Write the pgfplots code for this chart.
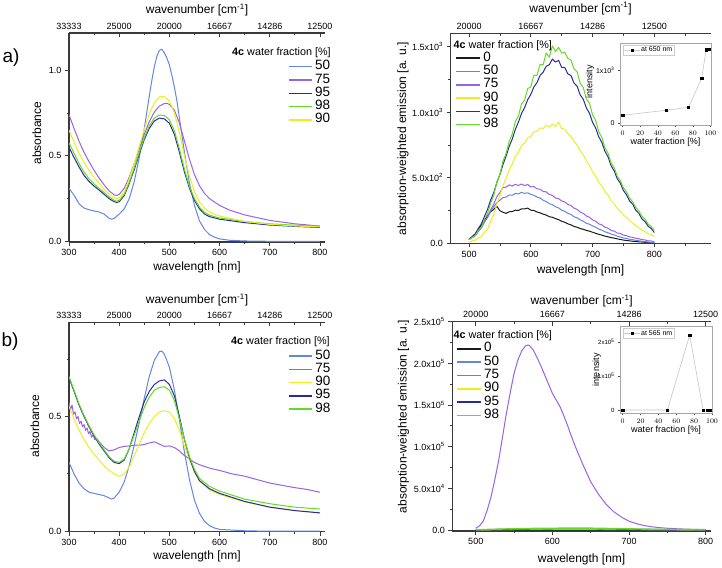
\documentclass[border=0pt]{standalone}
\usepackage{pgfplots}
\pgfplotsset{compat=1.18}
\usepackage{fontspec}
\setmainfont{Liberation Sans}
\definecolor{c0}{HTML}{1A1A1A}
\definecolor{c50}{HTML}{6286E4}
\definecolor{c75}{HTML}{9A62E4}
\definecolor{c90}{HTML}{EEEE1E}
\definecolor{c95}{HTML}{2A2AA0}
\definecolor{c98}{HTML}{62DC22}
\definecolor{axc}{HTML}{3A3A3A}
\newcommand{\fs}[1]{\fontsize{#1}{#1}\selectfont}
\newcommand{\sx}[1]{x10\textsuperscript{#1}}
\pgfplotsset{
  mainax/.style={scale only axis, anchor=south west,
    axis x line*=bottom, axis y line*=left,
    axis line style={axc, line width=1.1pt},
    tick style={axc, line width=0.8pt},
    tick align=outside, major tick length=4pt, minor tick length=2.2pt,
    tick label style={font=\fs{9}},
    label style={font=\fs{12}},
    xlabel={wavelength [nm]},
    scaled ticks=false,
    every axis plot/.append style={line width=1pt, line join=round},
  },
  topax/.style={scale only axis, anchor=south west,
    axis x line*=top, axis y line=none,
    axis line style={axc, line width=1.1pt},
    tick style={axc, line width=0.8pt},
    tick align=inside, major tick length=4pt, minor tick length=2.2pt,
    xticklabel pos=upper,
    xticklabel style={font=\fs{9}, anchor=south, inner sep=0pt},
    xticklabel shift=3.5pt,
    xlabel={wavenumber [cm\textsuperscript{-1}]},
    label style={font=\fs{12}},
    ymin=0, ymax=1,
  },
  lg/.style n args={3}{
    legend style={draw=none, fill=none, at={(axis description cs:#1,#2)}, anchor=north west,
      inner sep=0pt, outer sep=0pt, row sep=0pt, column sep=2.3pt, font=\fs{13.5},
      nodes={inner sep=0pt, text height=9.7pt, text depth=3.6pt}},
    legend cell align=left,
    legend image code/.code={\draw[##1, line width=1.5pt] (0pt,0pt) -- (#3,0pt);},
  },
  inset/.style={scale only axis, anchor=south west,
    axis background/.style={fill=white},
    axis line style={gray!70, line width=0.6pt},
    tick style={black!70, line width=0.5pt},
    tick align=outside, major tick length=2pt,
    tick pos=left,
    xtick={0,20,...,100},
    tick label style={font=\fs{7}},
    label style={font=\fs{9}},
    xlabel={water fraction [\%]}, ylabel={intensity},
    scaled ticks=false,
    legend style={anchor=north west, draw=gray!40, fill=white, font=\fs{7},
      inner sep=0.8pt, nodes={inner sep=0.8pt}},
    legend image code/.code={\draw[mark repeat=2, mark phase=2, ##1] plot coordinates {(0pt,0pt)(8pt,0pt)(16pt,0pt)};},
  },
}
\begin{document}
\begin{tikzpicture}
\useasboundingbox (0,0) rectangle (722pt,567pt);
% ================= a) left: absorbance =================
\begin{axis}[mainax, at={(69pt,325pt)}, width=256pt, height=209pt,
  xmin=300, xmax=810, ymin=-0.003, ymax=1.2165,
  xtick={300,400,...,800}, minor xtick={350,450,...,750},
  xticklabels={300,400,500,600,700,800},
  ytick={0,0.5,1}, yticklabels={0.0,0.5,1.0}, minor ytick={0.25,0.75},
  ylabel={absorbance},
  xlabel style={at={(axis description cs:0.5,0)}, anchor=center, yshift=-25pt},
  ylabel style={at={(axis description cs:-0.126,0.52)}, anchor=center},
  lg={0.855}{0.8706}{23.5pt}]
\addplot[c50] coordinates {(300,0.31)(310,0.27)(320,0.22)(330,0.195)(340,0.185)(350,0.178)(360,0.172)(370,0.16)(380,0.135)(385,0.13)(390,0.135)(400,0.16)(410,0.19)(420,0.25)(430,0.35)(440,0.49)(450,0.66)(460,0.85)(465,0.94)(470,1.02)(475,1.08)(480,1.115)(485,1.122)(490,1.10)(495,1.07)(500,1.03)(505,0.97)(510,0.90)(515,0.82)(520,0.72)(525,0.62)(530,0.52)(540,0.34)(550,0.21)(560,0.12)(570,0.07)(580,0.04)(590,0.025)(600,0.015)(620,0.007)(650,0.003)(700,0.001)(800,0.0)};
\addlegendentry{50}
\addplot[c75] coordinates {(300,0.74)(310,0.66)(320,0.585)(330,0.52)(340,0.465)(350,0.415)(360,0.37)(370,0.33)(380,0.295)(390,0.272)(395,0.268)(400,0.275)(410,0.31)(420,0.375)(430,0.455)(440,0.54)(450,0.625)(460,0.70)(470,0.755)(480,0.79)(490,0.805)(495,0.806)(500,0.80)(510,0.765)(520,0.69)(530,0.585)(540,0.48)(550,0.39)(560,0.325)(570,0.28)(580,0.25)(600,0.21)(620,0.183)(650,0.155)(700,0.123)(750,0.103)(800,0.09)};
\addlegendentry{75}
\addplot[c95] coordinates {(300,0.55)(310,0.49)(320,0.435)(330,0.385)(340,0.35)(350,0.323)(360,0.30)(370,0.275)(380,0.25)(390,0.232)(395,0.228)(400,0.232)(410,0.268)(420,0.338)(430,0.42)(440,0.51)(450,0.595)(460,0.66)(470,0.703)(480,0.72)(490,0.715)(500,0.69)(510,0.625)(520,0.52)(530,0.405)(540,0.31)(550,0.24)(560,0.19)(570,0.16)(580,0.145)(600,0.13)(650,0.11)(700,0.096)(750,0.088)(800,0.082)};
\addlegendentry{95}
\addplot[c98] coordinates {(300,0.575)(310,0.515)(320,0.455)(330,0.405)(340,0.365)(350,0.335)(360,0.31)(370,0.285)(380,0.26)(390,0.24)(395,0.235)(400,0.24)(410,0.275)(420,0.345)(430,0.43)(440,0.52)(450,0.605)(460,0.675)(470,0.72)(480,0.738)(490,0.735)(500,0.71)(510,0.645)(520,0.54)(530,0.42)(540,0.32)(550,0.25)(560,0.20)(570,0.17)(580,0.153)(600,0.137)(650,0.117)(700,0.103)(750,0.095)(800,0.09)};
\addlegendentry{98}
\addplot[c90] coordinates {(300,0.65)(310,0.58)(320,0.515)(330,0.46)(340,0.415)(350,0.375)(360,0.34)(370,0.305)(380,0.275)(390,0.255)(395,0.25)(400,0.255)(410,0.29)(420,0.365)(430,0.455)(440,0.555)(450,0.655)(460,0.745)(470,0.81)(480,0.843)(485,0.848)(490,0.845)(500,0.82)(510,0.75)(520,0.635)(530,0.50)(540,0.38)(550,0.29)(560,0.23)(570,0.195)(580,0.172)(600,0.148)(650,0.117)(700,0.10)(750,0.09)(800,0.085)};
\addlegendentry{90}
\end{axis}
\begin{axis}[topax, at={(69pt,325pt)}, width=256pt, height=209pt, xmin=300, xmax=810,
  xtick={300,400,...,800}, xticklabels={33333,25000,20000,16667,14286,12500}, minor xtick={350,450,...,750},
  xlabel style={at={(axis description cs:0.5,1)}, anchor=center, yshift=23pt}]
\addplot[draw=none] coordinates {(300,0)};
\end{axis}
% ================= a) right: emission =================
\begin{axis}[mainax, at={(450.5pt,323.5pt)}, width=260pt, height=210pt,
  xmin=470, xmax=891, ymin=-2, ymax=1600,
  xtick={500,600,700,800}, minor xtick={550,650,750,850},
  xticklabels={500,600,700,800},
  ytick={0,500,1000,1500}, yticklabels={0.0,5.0\sx{2},1.0\sx{3},1.5\sx{3}}, minor ytick={250,750,1250},
  ylabel={absorption-weighted emission [a. u.]},
  xlabel style={at={(axis description cs:0.5,0)}, anchor=center, yshift=-26.5pt},
  ylabel style={at={(axis description cs:-0.183,0.5)}, anchor=center},
  lg={0.0173}{0.914}{24.5pt}]
\addplot[c0] coordinates {(500,28)(505,48)(510,68)(515,105)(520,138)(525,178)(530,208)(535,240)(540,258)(545,282)(550,248)(555,236)(560,228)(565,240)(570,242)(575,252)(580,250)(585,262)(590,262)(595,268)(600,252)(605,250)(610,238)(615,232)(620,222)(625,215)(630,202)(635,198)(640,188)(645,180)(650,168)(655,160)(660,148)(665,140)(670,128)(675,122)(680,112)(685,106)(690,98)(695,92)(700,84)(705,76)(710,68)(715,62)(720,54)(725,49)(730,43)(735,39)(740,33)(745,29)(750,24)(755,21)(760,18)(765,15)(770,13)(775,11)(780,9)(785,7)(790,5)(795,4)(800,2)};
\addlegendentry{0}
\addplot[c50] coordinates {(500,30)(505,42)(510,58)(515,90)(520,118)(525,160)(530,198)(535,245)(540,278)(545,310)(550,328)(555,348)(560,352)(565,368)(570,366)(575,380)(580,376)(585,388)(590,380)(595,385)(600,372)(605,366)(610,352)(615,345)(620,328)(625,318)(630,302)(635,294)(640,278)(645,270)(650,252)(655,244)(660,228)(665,220)(670,202)(675,194)(680,178)(685,168)(690,152)(695,145)(700,132)(705,122)(710,108)(715,100)(720,88)(725,80)(730,70)(735,64)(740,54)(745,48)(750,40)(755,36)(760,30)(765,27)(770,22)(775,19)(780,15)(785,12)(790,9)(795,7)(800,4)};
\addlegendentry{50}
\addplot[c75] coordinates {(500,28)(505,45)(510,58)(515,92)(520,118)(525,165)(530,198)(535,255)(540,298)(545,355)(550,388)(555,425)(560,428)(565,445)(570,436)(575,450)(580,440)(585,452)(590,440)(595,448)(600,430)(605,432)(610,415)(615,412)(620,395)(625,392)(630,372)(635,365)(640,345)(645,340)(650,322)(655,315)(660,296)(665,288)(670,268)(675,258)(680,238)(685,228)(690,208)(695,198)(700,178)(705,168)(710,148)(715,140)(720,122)(725,115)(730,98)(735,92)(740,78)(745,74)(750,62)(755,58)(760,48)(765,45)(770,38)(775,34)(780,28)(785,25)(790,19)(795,17)(800,13)};
\addlegendentry{75}
\addplot[c90] coordinates {(500,8)(505,18)(510,22)(515,40)(520,52)(525,85)(530,105)(535,170)(540,215)(545,300)(550,365)(555,440)(560,495)(565,560)(570,605)(575,665)(580,695)(585,745)(590,765)(595,805)(600,815)(605,850)(610,855)(615,880)(620,875)(625,900)(630,885)(635,910)(640,890)(645,925)(650,875)(655,870)(660,835)(665,815)(670,775)(675,752)(680,705)(685,675)(690,625)(695,595)(700,545)(705,512)(710,465)(715,438)(720,395)(725,368)(730,325)(735,302)(740,265)(745,245)(750,215)(755,198)(760,172)(765,155)(770,132)(775,118)(780,98)(785,88)(790,72)(795,65)(800,52)};
\addlegendentry{90}
\addplot[c95] coordinates {(500,33)(505,50)(510,72)(515,112)(520,148)(525,205)(530,258)(535,330)(540,385)(545,462)(550,525)(555,600)(560,665)(565,738)(570,795)(575,868)(580,925)(585,990)(590,1035)(595,1095)(600,1135)(605,1192)(610,1225)(615,1280)(620,1305)(625,1350)(630,1362)(635,1405)(640,1382)(645,1395)(650,1342)(655,1340)(660,1292)(665,1280)(670,1222)(675,1198)(680,1132)(685,1098)(690,1032)(695,992)(700,922)(705,880)(710,812)(715,770)(720,702)(725,660)(730,592)(735,552)(740,492)(745,458)(750,402)(755,370)(760,322)(765,298)(770,252)(775,228)(780,185)(785,165)(790,130)(795,112)(800,82)};
\addlegendentry{95}
\addplot[c98] coordinates {(500,28)(505,45)(510,58)(515,98)(520,122)(525,185)(530,226)(535,305)(540,365)(545,468)(550,525)(555,628)(560,684)(565,778)(570,832)(575,930)(580,972)(585,1062)(590,1092)(595,1180)(600,1192)(605,1282)(610,1280)(615,1362)(620,1362)(625,1452)(630,1420)(635,1505)(640,1462)(645,1495)(650,1450)(655,1458)(660,1410)(665,1398)(670,1330)(675,1308)(680,1220)(685,1188)(690,1100)(695,1068)(700,980)(705,938)(710,850)(715,808)(720,730)(725,688)(730,612)(735,578)(740,512)(745,478)(750,422)(755,392)(760,344)(765,316)(770,274)(775,246)(780,205)(785,185)(790,146)(795,128)(800,98)};
\addlegendentry{98}
\end{axis}
\begin{axis}[topax, at={(450.5pt,323.5pt)}, width=260pt, height=210pt, xmin=470, xmax=891,
  xtick={500,600,700,800}, xticklabels={20000,16667,14286,12500}, minor xtick={550,650,750,850},
  xlabel style={at={(axis description cs:0.5,1)}, anchor=center, yshift=25pt}]
\addplot[draw=none] coordinates {(500,0)};
\end{axis}
\begin{axis}[inset, at={(620pt,442pt)}, width=91pt, height=81.7pt,
  xmin=-3, xmax=100.6, ymin=-32, ymax=1500,
  ytick={0,1000}, yticklabels={0,1\sx{3}},
  xlabel style={at={(axis description cs:0.5,0)}, anchor=center, yshift=-17pt},
  ylabel style={at={(axis description cs:-0.33,0.53)}, anchor=center},
  legend style={at={(axis description cs:0.03,0.979)}}]
\addplot[gray!45, line width=0.6pt, mark=square*, mark size=1.2pt, mark options={black, fill=black}]
  coordinates {(0,150)(50,245)(75,300)(90,845)(95,1375)(98,1390)};
\addlegendentry{at 650 nm}
\end{axis}
% ================= b) left: absorbance =================
\begin{axis}[mainax, at={(69pt,35.3pt)}, width=256pt, height=209.2pt,
  xmin=300, xmax=810, ymin=-0.002, ymax=0.91,
  xtick={300,400,...,800}, minor xtick={350,450,...,750},
  xticklabels={300,400,500,600,700,800},
  ytick={0,0.5}, yticklabels={0.0,0.5}, minor ytick={0.25,0.75},
  ylabel={absorbance},
  xlabel style={at={(axis description cs:0.5,0)}, anchor=center, yshift=-24.3pt},
  ylabel style={at={(axis description cs:-0.133,0.505)}, anchor=center},
  lg={0.856}{0.8717}{23.5pt}]
\addplot[c50] coordinates {(300,0.30)(310,0.25)(320,0.21)(330,0.185)(340,0.17)(350,0.165)(360,0.16)(370,0.155)(380,0.145)(385,0.14)(390,0.145)(400,0.17)(410,0.215)(420,0.285)(430,0.375)(440,0.475)(450,0.58)(460,0.675)(470,0.745)(480,0.783)(485,0.785)(490,0.772)(500,0.715)(510,0.615)(520,0.485)(530,0.345)(540,0.225)(550,0.135)(560,0.078)(570,0.043)(580,0.024)(590,0.014)(600,0.008)(650,0.002)(700,0.0)(800,0.0)};
\addlegendentry{50}
\addplot[c75] coordinates {(300,0.56)(303,0.53)(306,0.55)(309,0.51)(312,0.52)(315,0.49)(318,0.50)(321,0.47)(324,0.48)(327,0.455)(330,0.465)(333,0.44)(336,0.45)(339,0.425)(342,0.435)(345,0.41)(348,0.42)(351,0.40)(355,0.405)(360,0.39)(370,0.365)(380,0.35)(390,0.355)(400,0.365)(410,0.37)(420,0.372)(430,0.375)(440,0.375)(450,0.378)(460,0.385)(470,0.39)(480,0.38)(490,0.37)(500,0.372)(510,0.365)(520,0.35)(530,0.33)(540,0.315)(550,0.30)(560,0.29)(580,0.275)(600,0.265)(625,0.25)(650,0.24)(675,0.225)(700,0.21)(725,0.2)(750,0.19)(775,0.182)(800,0.17)};
\addlegendentry{75}
\addplot[c90] coordinates {(300,0.545)(310,0.49)(320,0.44)(330,0.40)(340,0.365)(350,0.335)(360,0.31)(370,0.285)(380,0.265)(390,0.25)(400,0.24)(410,0.25)(420,0.28)(430,0.33)(440,0.38)(450,0.43)(460,0.47)(470,0.50)(480,0.52)(490,0.525)(500,0.52)(510,0.49)(520,0.44)(530,0.37)(540,0.31)(550,0.26)(560,0.22)(580,0.18)(600,0.16)(650,0.128)(700,0.105)(750,0.09)(800,0.08)};
\addlegendentry{90}
\addplot[c95] coordinates {(300,0.67)(310,0.61)(320,0.55)(330,0.50)(340,0.455)(350,0.415)(360,0.38)(370,0.35)(380,0.32)(390,0.30)(400,0.295)(410,0.31)(420,0.36)(430,0.43)(440,0.50)(450,0.565)(460,0.61)(470,0.64)(480,0.655)(490,0.66)(500,0.64)(510,0.59)(520,0.50)(530,0.40)(540,0.32)(550,0.26)(560,0.22)(580,0.185)(600,0.165)(650,0.13)(700,0.105)(750,0.09)(800,0.08)};
\addlegendentry{95}
\addplot[c98] coordinates {(300,0.675)(310,0.615)(320,0.555)(330,0.505)(340,0.46)(350,0.42)(360,0.385)(370,0.355)(380,0.325)(390,0.305)(400,0.30)(410,0.315)(420,0.36)(430,0.42)(440,0.48)(450,0.54)(460,0.585)(470,0.615)(480,0.627)(490,0.63)(500,0.615)(510,0.57)(520,0.49)(530,0.40)(540,0.325)(550,0.27)(560,0.23)(580,0.195)(600,0.175)(650,0.14)(700,0.12)(750,0.105)(800,0.097)};
\addlegendentry{98}
\end{axis}
\begin{axis}[topax, at={(69pt,35.3pt)}, width=256pt, height=209.2pt, xmin=300, xmax=810,
  xtick={300,400,...,800}, xticklabels={33333,25000,20000,16667,14286,12500}, minor xtick={350,450,...,750},
  xlabel style={at={(axis description cs:0.5,1)}, anchor=center, yshift=22.5pt}]
\addplot[draw=none] coordinates {(300,0)};
\end{axis}
% ================= b) right: emission =================
\begin{axis}[mainax, at={(452.3pt,36pt)}, width=258.7pt, height=209.3pt,
  xmin=469.4, xmax=807, ymin=-1200, ymax=250000,
  xtick={500,600,700,800}, minor xtick={550,650,750},
  xticklabels={500,600,700,800},
  ytick={0,50000,100000,150000,200000,250000},
  yticklabels={0.0,5.0\sx{4},1.0\sx{5},1.5\sx{5},2.0\sx{5},2.5\sx{5}},
  minor ytick={25000,75000,125000,175000,225000},
  ylabel={absorption-weighted emission [a. u.]},
  xlabel style={at={(axis description cs:0.5,0)}, anchor=center, yshift=-28pt},
  ylabel style={at={(axis description cs:-0.189,0.546)}, anchor=center},
  lg={0.017}{0.9018}{23.5pt}]
\addplot[c0] coordinates {(500,50)(550,400)(600,500)(650,400)(700,250)(750,100)(800,40)};
\addlegendentry{0}
\addplot[c50] coordinates {(500,100)(550,700)(600,900)(650,700)(700,400)(750,200)(800,80)};
\addlegendentry{50}
\addplot[c75] coordinates {(500,2000)(505,5000)(510,11000)(515,24000)(520,40000)(525,61000)(530,84000)(535,112000)(540,140000)(545,165000)(550,188000)(555,204000)(560,215000)(565,221000)(568,222000)(570,221500)(575,216000)(580,207000)(585,197000)(590,186000)(595,175000)(600,164000)(605,156000)(610,148000)(615,137000)(620,125000)(625,112000)(630,100000)(635,89000)(640,78000)(645,68000)(650,58000)(660,43000)(670,31000)(680,22000)(690,15500)(700,10500)(710,7500)(720,5300)(730,3800)(740,2800)(750,2100)(760,1600)(770,1200)(780,900)(790,700)(800,600)};
\addlegendentry{75}
\addplot[c90] coordinates {(500,100)(550,600)(600,1000)(650,1000)(700,700)(750,350)(800,150)};
\addlegendentry{90}
\addplot[c95] coordinates {(500,200)(550,1000)(600,1500)(650,1600)(700,1000)(750,500)(800,200)};
\addlegendentry{95}
\addplot[c98, line width=1.4pt] coordinates {(500,300)(525,900)(550,1500)(575,1900)(600,2100)(625,2300)(650,2200)(675,1800)(700,1400)(725,1000)(750,700)(775,450)(800,300)};
\addlegendentry{98}
\end{axis}
\begin{axis}[topax, at={(452.3pt,36pt)}, width=258.7pt, height=209.3pt, xmin=469.4, xmax=807,
  xtick={500,600,700,800}, xticklabels={20000,16667,14286,12500}, minor xtick={550,650,750},
  xlabel style={at={(axis description cs:0.5,1)}, anchor=center, yshift=21pt}]
\addplot[draw=none] coordinates {(500,0)};
\end{axis}
\begin{axis}[inset, at={(620pt,153.7pt)}, width=92pt, height=86.6pt,
  xmin=-3, xmax=100, ymin=-9700, ymax=245000,
  ytick={0,100000,200000}, yticklabels={0,1\sx{5},2\sx{5}},
  yticklabel style={font=\fs{6}},
  xlabel style={at={(axis description cs:0.5,0)}, anchor=center, yshift=-16.7pt},
  ylabel style={at={(axis description cs:-0.253,0.5)}, anchor=center},
  legend style={at={(axis description cs:0.03,0.98)}}]
\addplot[gray!45, line width=0.6pt, mark=square*, mark size=1.2pt, mark options={black, fill=black}]
  coordinates {(0,0)(50,0)(75,220000)(90,0)(95,0)(98,0)};
\addlegendentry{at 565 nm}
\end{axis}
% titles of legends and panel letters
\node[anchor=west, inner sep=0pt, font=\fs{10.8}] at (232pt,514.3pt) {\textbf{4c} water fraction [\%]};
\node[anchor=west, inner sep=0pt, font=\fs{10.8}] at (453.3pt,521pt) {\textbf{4c} water fraction [\%]};
\node[anchor=west, inner sep=0pt, font=\fs{10.8}] at (231pt,225.3pt) {\textbf{4c} water fraction [\%]};
\node[anchor=west, inner sep=0pt, font=\fs{10.8}] at (453.3pt,231pt) {\textbf{4c} water fraction [\%]};
\node[font=\fs{19}] at (11pt,509pt) {a)};
\node[font=\fs{19}] at (10pt,225pt) {b)};
\end{tikzpicture}
\end{document}
